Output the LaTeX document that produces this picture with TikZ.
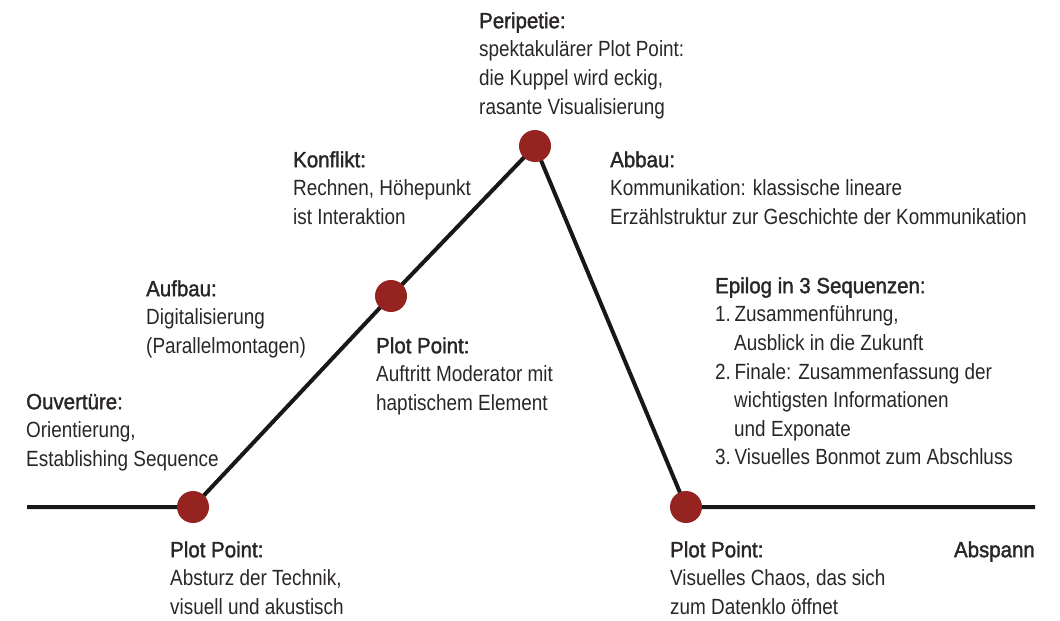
\documentclass[tikz,border=0pt]{standalone}
\usepackage{fontspec}
\setmainfont{Liberation Sans}[FakeStretch=0.86]
\newfontfamily\headfont{Liberation Sans}[FakeStretch=0.93, FakeBold=1.6]
\usetikzlibrary{backgrounds}
\definecolor{dotred}{HTML}{952421}
\definecolor{txtgray}{HTML}{2A2627}
\definecolor{linegray}{HTML}{1A1718}
\tikzset{
  dot/.style={circle, fill=dotred, draw=none, minimum size=32pt, inner sep=0pt},
  plotline/.style={line width=4pt, draw=linegray},
  label/.style={anchor=north west, inner sep=0pt, align=left, text=txtgray,
    font=\fontsize{22}{28.6}\selectfont},
}
\newcommand{\hd}[1]{\strut{\headfont #1}}
\begin{document}
\begin{tikzpicture}[x=1pt,y=-1pt]
\useasboundingbox (0,0) rectangle (1060,621);
% dots
\node[dot] (p1) at (193,507) {};
\node[dot] (p2) at (391,296) {};
\node[dot] (p3) at (535,146) {};
\node[dot] (p4) at (686,507) {};
\coordinate (start) at (27,507);
\coordinate (end) at (1035,507);
\begin{scope}[on background layer]
\draw[plotline] (start) -- (p1.center) -- (p2.center) -- (p3.center) -- (p4.center) -- (end);
\end{scope}
% labels
\node[label] (ouv) at (26,389) {\hd{Ouvertüre:}\\Orientierung,\\Establishing Sequence};
\node[label] (pp1) at (170,537) {\hd{Plot Point:}\\Absturz der Technik,\\visuell und akustisch};
\node[label] (auf) at (146,276) {\hd{Aufbau:}\\Digitalisierung\\(Parallelmontagen)};
\node[label] (pp2) at (376,333) {\hd{Plot Point:}\\Auftritt Moderator mit\\haptischem Element};
\node[label] (kon) at (293,147) {\hd{Konflikt:}\\Rechnen, Höhepunkt\\ist Interaktion};
\node[label] (per) at (479,8) {\hd{Peripetie:}\\spektakulärer Plot Point:\\die Kuppel wird eckig,\\rasante Visualisierung};
\node[label] (abb) at (610,147) {\hd{Abbau:}\\Kommunikation: klassische lineare\\Erzählstruktur zur Geschichte der Kommunikation};
\node[label] (epi) at (715,273) {\hd{Epilog in 3 Sequenzen:}\\1.\,Zusammenführung,\\\hspace*{19pt}Ausblick in die Zukunft\\2.\,Finale: Zusammenfassung der\\\hspace*{19pt}wichtigsten Informationen\\\hspace*{19pt}und Exponate\\3.\,Visuelles Bonmot zum Abschluss};
\node[label] (pp4) at (670,537) {\hd{Plot Point:}\\Visuelles Chaos, das sich\\zum Datenklo öffnet};
\node[label, anchor=north east] (absp) at (1035,537) {\hd{Abspann}};
\end{tikzpicture}
\end{document}
